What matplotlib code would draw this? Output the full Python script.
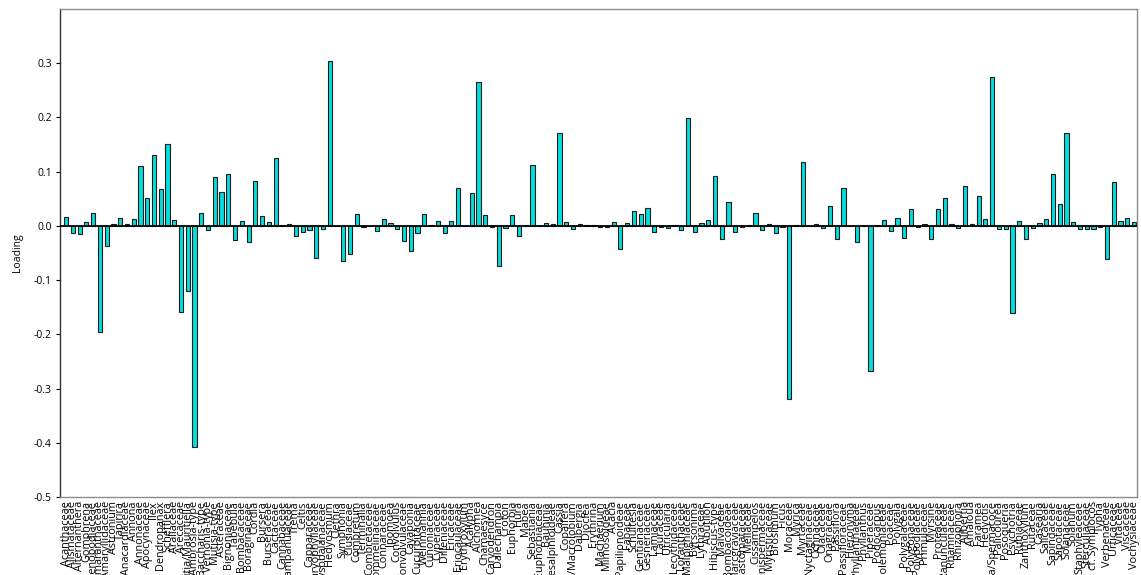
import matplotlib
matplotlib.use('Agg')
import matplotlib.pyplot as plt
import numpy as np

plt.rcParams['font.family'] = ['Open Sans', 'DejaVu Sans']

# taxa (x axis), in plotting order
taxa = [
    'Acanthaceae', 'Alismataceae', 'Alternanthera', 'Gomphrena', 'Chenopodiaceae',
    'Amaranthaceae', 'Amaryllidaceae', 'Astronium', 'Tapirira', 'Anacardiaceae',
    'Annona', 'Annonaceae', 'Apocynaceae', 'Ilex', 'Dendropanax',
    'Schefflera', 'Araliaceae', 'Arecaceae', 'Mauritia/Mauritiella', 'Ambrosia-type',
    'Baccharis-type', 'Vernonia-type', 'Mutisia-type', 'Asteraceae', 'Bignoniaceae',
    'Tabebuia', 'Bombacaceae', 'Boraginaceae', 'Cordia', 'Bursera',
    'Burseraceae', 'Cactaceae', 'Cannabaceae', 'Campanulaceae', 'Trema',
    'Celtis', 'Capparaceae', 'Caryophyllaceae', 'Chrysobalanaceae', 'Hedyosmum',
    'Clethra', 'Symphonia', 'Clusiaceae', 'Combretum', 'Terminalia',
    'Combretaceae', 'Commelinaceae', 'Connaraceae', 'Ipomoea', 'Convolvulus',
    'Convolvulaceae', 'Cayaponia', 'Cucurbitaceae', 'Weinmannia', 'Cunoniaceae',
    'Cyperaceae', 'Dilleniaceae', 'Ericaceae', 'Eriocaulaceae', 'Erythroxylum',
    'Acalypha', 'Alchornea', 'Chamaesyce', 'Caryodendron', 'Dalechampia',
    'Croton', 'Euphorbia', 'Hura', 'Mabea', 'Sebastiania',
    'Euphorbiaceae', 'Bauhinia', 'Caesalpinioideae', 'Cassia', 'Copaifera',
    'Crudia/Macrolobium', 'Dalbergia', 'Dioclea', 'Erythrina', 'Machaerium',
    'Mimosoideae', 'Acacia', 'Papilionoideae', 'Fabaceae', 'Schultesia',
    'Gentianaceae', 'Gesneriaceae', 'Lamiaceae', 'Lauraceae', 'Utricularia',
    'Lecythidaceae', 'Loranthaceae', 'Malpighiaceae', 'Byrsonima', 'Lythraceae',
    'Abutilon', 'Hibiscus-type', 'Malvaceae', 'Bombacoideae', 'Marcgraviaceae',
    'Melastomataceae', 'Meliaceae', 'Cissampelos', 'Menispermaceae', 'Myristicaceae',
    'Brosimum', 'Ficus', 'Moraceae', 'Myrica', 'Myrtaceae',
    'Nyctaginaceae', 'Ochnaceae', 'Olacaceae', 'Onagraceae', 'Passiflora',
    'Passifloraceae', 'Hieronyma', 'Phyllanthaceae', 'Phyllanthus', 'Piperaceae',
    'Podocarpus', 'Polemoniaceae', 'Poaceae', 'Polygala', 'Polygalaceae',
    'Polygonaceae', 'Polypodiaceae', 'Primulaceae', 'Myrsine', 'Proteaceae',
    'Ranunculaceae', 'Rhamnaceae', 'Rhizophora', 'Alibertia', 'Amaioua',
    'Faramea', 'Hedyotis', 'Borreria/Spermacoce', 'Palicourea', 'Posoqueria',
    'Psychotria', 'Rubiaceae', 'Zanthoxylum', 'Rutaceae', 'Casearia',
    'Salicaceae', 'Sapindaceae', 'Sapotaceae', 'Solanaceae', 'Solanum',
    'Staphyleaceae', 'Sterculiaceae', 'cf. Symplocos', 'Typha', 'Verbenaceae',
    'Urticaceae', 'Vitaceae', 'Viscaceae', 'Vochysiaceae',
]

# loadings
loading = [
    0.016, -0.013, -0.015, 0.008, 0.024, -0.196, -0.037, 0.003, 0.014, 0.003,
    0.012, 0.110, 0.052, 0.131, 0.068, 0.151, 0.010, -0.159, -0.121, -0.407,
    0.024, -0.007, 0.091, 0.062, 0.096, -0.026, 0.009, -0.030, 0.082, 0.018,
    0.008, 0.126, 0.001, 0.003, -0.019, -0.012, -0.007, -0.060, -0.006, 0.304,
    0.000, -0.064, -0.052, 0.021, -0.003, 0.000, -0.010, 0.012, 0.005, -0.006,
    -0.028, -0.046, -0.013, 0.022, 0.002, 0.009, -0.014, 0.009, 0.070, 0.000,
    0.060, 0.265, 0.020, -0.002, -0.074, -0.004, 0.020, -0.018, 0.002, 0.113,
    -0.001, 0.005, 0.004, 0.171, 0.007, -0.006, 0.004, 0.002, 0.002, -0.003,
    -0.002, 0.008, -0.043, 0.005, 0.027, 0.021, 0.033, -0.012, -0.002, -0.004,
    0.002, -0.007, 0.198, -0.012, 0.005, 0.010, 0.092, -0.024, 0.044, -0.012,
    -0.003, 0.002, 0.024, -0.008, 0.003, -0.014, -0.002, -0.319, 0.002, 0.118,
    0.000, 0.004, -0.004, 0.037, -0.024, 0.070, -0.001, -0.029, 0.000, -0.268,
    0.002, 0.011, -0.009, 0.014, -0.022, 0.031, -0.003, 0.004, -0.024, 0.031,
    0.052, 0.004, -0.004, 0.073, 0.004, 0.055, 0.013, 0.274, -0.005, -0.005,
    -0.161, 0.009, -0.024, -0.004, 0.005, 0.013, 0.096, 0.041, 0.171, 0.007,
    -0.006, -0.005, -0.005, -0.002, -0.061, 0.081, 0.009, 0.014, 0.007,
]

yticks = [-0.5, -0.4, -0.3, -0.2, -0.1, 0.0, 0.1, 0.2, 0.3]

fig = plt.figure(figsize=(11.41, 5.75), dpi=100)
ax = fig.add_axes([0.0526, 0.1357, 0.944, 0.8487])

x = np.arange(len(taxa))
ax.bar(x, loading, width=0.62, color='#00dede', edgecolor='#1a1a1a',
       linewidth=0.8, zorder=2)
ax.axhline(0, color='black', linewidth=1.3, zorder=3)

ax.set_xlim(-0.9, len(taxa) - 0.55)
ax.set_ylim(-0.5, 0.4)
ax.set_yticks(yticks)
ax.set_yticklabels(['%.1f' % v for v in yticks], fontsize=7.5)
ax.set_ylabel('Loading', fontsize=7.5, labelpad=8)

ax.set_xticks(x)
ax.set_xticklabels(taxa, rotation=90, fontsize=7.8, va='top', ha='center')
ax.tick_params(axis='x', length=0, pad=3)
ax.tick_params(axis='y', length=3, width=0.8, pad=3)

for side in ['top', 'right', 'bottom']:
    ax.spines[side].set_color('#8c8c8c')
    ax.spines[side].set_linewidth(1.0)
ax.spines['left'].set_color('#333333')
ax.spines['left'].set_linewidth(1.0)

fig.savefig('out.png', dpi=100)
